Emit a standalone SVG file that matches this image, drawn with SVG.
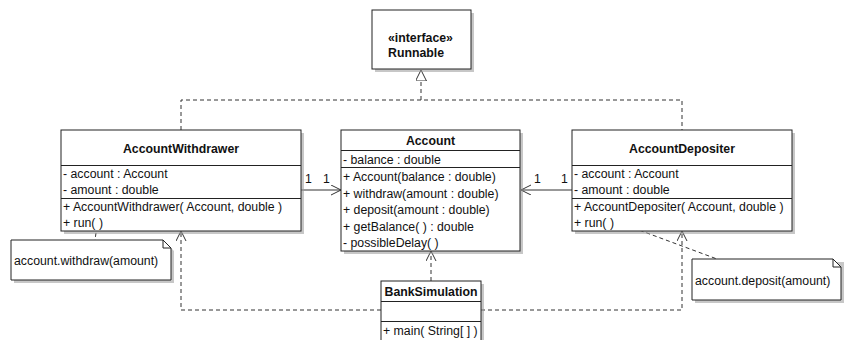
<svg xmlns="http://www.w3.org/2000/svg" width="844" height="340" viewBox="0 0 844 340">
<style>
text{font-family:"Liberation Sans",Arial,sans-serif;font-size:12.3px;fill:#111}
.b{font-weight:bold}
.box{fill:#fff;stroke:#222;stroke-width:1}
.sh{fill:#999;opacity:0.55}
.ln{stroke:#222;stroke-width:1}
.dash{fill:none;stroke:#333;stroke-width:1;stroke-dasharray:4 3}
.sol{fill:none;stroke:#333;stroke-width:1}
</style>
<defs>
<marker id="open" markerWidth="12" markerHeight="12" refX="10" refY="5" orient="auto" markerUnits="userSpaceOnUse">
<path d="M0,0 L10,5 L0,10" fill="none" stroke="#333" stroke-width="1"/>
</marker>
<marker id="tri" markerWidth="14" markerHeight="14" refX="11" refY="5.5" orient="auto" markerUnits="userSpaceOnUse">
<path d="M0,0 L11,5.5 L0,11 Z" fill="#fff" stroke="#333" stroke-width="1"/>
</marker>
</defs>

<g id="connectors">
<path class="dash" d="M181,130 V100 H682 V130"/>
<path class="dash" d="M421,100 V70" marker-end="url(#tri)"/>
<path class="sol" d="M301,190 H341" marker-end="url(#open)"/>
<path class="sol" d="M572,190 H521" marker-end="url(#open)"/>
<path class="dash" d="M431,281 V251" marker-end="url(#open)"/>
<path class="dash" d="M381,310 H181 V231" marker-end="url(#open)"/>
<path class="dash" d="M481,310 H682 V231" marker-end="url(#open)"/>
<path class="dash" d="M97,226 L95,240"/>
<path class="dash" d="M620,223 L717,259"/>
<text x="305" y="183">1</text>
<text x="323" y="183">1</text>
<text x="534" y="183">1</text>
<text x="561" y="183">1</text>
</g>

<g id="runnable">
<rect class="sh" x="375" y="13" width="99" height="59"/>
<rect class="box" x="372" y="10" width="99" height="59"/>
<text class="b" x="388" y="42">«interface»</text>
<text class="b" x="388" y="57">Runnable</text>
</g>

<g id="accountWithdrawer">
<rect class="sh" x="64" y="133" width="240" height="101"/>
<rect class="box" x="61" y="130" width="240" height="101"/>
<line class="ln" x1="61" y1="165.5" x2="301" y2="165.5"/>
<line class="ln" x1="61" y1="198.5" x2="301" y2="198.5"/>
<text class="b" x="181" y="153" text-anchor="middle">AccountWithdrawer</text>
<text x="63" y="178">- account : Account</text>
<text x="63" y="194">- amount : double</text>
<text x="63" y="211">+ AccountWithdrawer( Account, double )</text>
<text x="63" y="227">+ run( )</text>
</g>

<g id="account">
<rect class="sh" x="344" y="133" width="179" height="121"/>
<rect class="box" x="341" y="130" width="179" height="121"/>
<line class="ln" x1="341" y1="150.5" x2="520" y2="150.5"/>
<line class="ln" x1="341" y1="167.5" x2="520" y2="167.5"/>
<text class="b" x="430.5" y="145" text-anchor="middle">Account</text>
<text x="343" y="164">- balance : double</text>
<text x="343" y="181">+ Account(balance : double)</text>
<text x="343" y="198">+ withdraw(amount : double)</text>
<text x="343" y="214">+ deposit(amount : double)</text>
<text x="343" y="231">+ getBalance( ) : double</text>
<text x="343" y="247">- possibleDelay( )</text>
</g>

<g id="accountDepositer">
<rect class="sh" x="575" y="133" width="220" height="101"/>
<rect class="box" x="572" y="130" width="220" height="101"/>
<line class="ln" x1="572" y1="165.5" x2="792" y2="165.5"/>
<line class="ln" x1="572" y1="198.5" x2="792" y2="198.5"/>
<text class="b" x="682" y="153" text-anchor="middle">AccountDepositer</text>
<text x="574" y="178">- account : Account</text>
<text x="574" y="194">- amount : double</text>
<text x="574" y="211">+ AccountDepositer( Account, double )</text>
<text x="574" y="227">+ run( )</text>
</g>

<g id="bankSimulation">
<rect class="sh" x="384" y="284" width="100" height="60"/>
<rect class="box" x="381" y="281" width="100" height="62"/>
<line class="ln" x1="381" y1="301.5" x2="481" y2="301.5"/>
<line class="ln" x1="381" y1="321.5" x2="481" y2="321.5"/>
<text class="b" x="431" y="296" text-anchor="middle">BankSimulation</text>
<text x="383" y="335">+ main( String[ ] )</text>
</g>

<g id="noteWithdraw">
<path class="sh" d="M14,243 H166 L174,251 V283 H14 Z"/>
<path class="box" d="M11,240 H163 L171,248 V280 H11 Z"/>
<path d="M163,240 V248 H171" fill="none" stroke="#222" stroke-width="1"/>
<text x="14" y="265">account.withdraw(amount)</text>
</g>

<g id="noteDeposit">
<path class="sh" d="M695,262 H844 V303 H695 Z"/>
<path class="box" d="M692,259 H833 L841,267 V300 H692 Z"/>
<path d="M833,259 V267 H841" fill="none" stroke="#222" stroke-width="1"/>
<text x="695" y="285">account.deposit(amount)</text>
</g>
</svg>
